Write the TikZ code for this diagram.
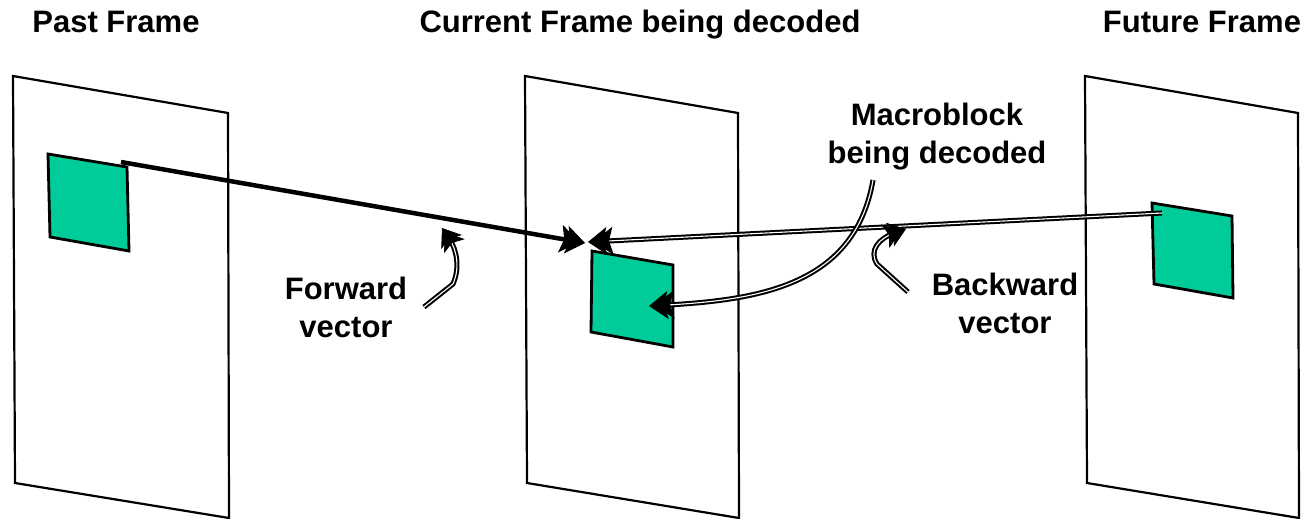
\documentclass[tikz,border=0pt]{standalone}
\usepackage{fontspec}
\setmainfont{Liberation Sans}
\usetikzlibrary{arrows.meta}
\definecolor{mbgreen}{RGB}{0,204,153}
\tikzset{
  frame/.style={draw=black, line width=2.2pt, fill=white, line join=miter},
  mblock/.style={draw=black, line width=2.8pt, fill=mbgreen, line join=miter},
  lbl/.style={font=\fontsize{31}{38}\selectfont\bfseries, align=center, inner sep=0pt},
  bighead/.style={arrows={-{Stealth[length=19pt,width=28pt,inset=4pt,line width=0.8pt,sep=-13pt]Stealth[length=19pt,width=28pt,inset=4pt,line width=0.8pt]}}},
  smallhead/.style={arrows={-{Stealth[length=17pt,width=25pt,inset=4pt,line width=0.8pt,sep=-12pt]Stealth[length=17pt,width=25pt,inset=4pt,line width=0.8pt]}}},
  mv/.style={line width=4.5pt, bighead},
  dbl/.style={double=white, double distance=1.1pt, line width=2pt},
}
\begin{document}
\begin{tikzpicture}[x=1pt,y=-1pt]
  \useasboundingbox (0,0) rectangle (1306,519);

  % titles
  \node[lbl, anchor=base] (pastttl) at (116,33) {Past Frame};
  \node[lbl, anchor=base] (curttl)  at (640,33) {Current Frame being decoded};
  \node[lbl, anchor=base] (futttl)  at (1202,33) {Future Frame};

  % the three frames
  \draw[frame] (13,76) -- (228,113) -- (229,518) -- (15,483) -- cycle;
  \draw[frame] (525,76) -- (738,113) -- (739,518) -- (527,483) -- cycle;
  \draw[frame] (1085,76) -- (1298,113) -- (1299,518) -- (1087,483) -- cycle;

  % macroblocks
  \draw[mblock] (48,154) -- (127,167) -- (129,251) -- (50,237) -- cycle;
  \draw[mblock] (592,251) -- (673,265) -- (673,347) -- (591,332) -- cycle;
  \draw[mblock] (1152,203) -- (1232,216) -- (1233,298) -- (1154,284) -- cycle;

  % labels (base anchor sits on the last line)
  \node[lbl, anchor=base] (mblbl)  at (937,163) {Macroblock\\being decoded};
  \node[lbl, anchor=base] (fwdlbl) at (346,337) {Forward\\vector};
  \node[lbl, anchor=base] (bwdlbl) at (1005,333) {Backward\\vector};

  % motion vectors
  \coordinate (fwdtail) at (121,162);
  \coordinate (fwdtip)  at (585,243);
  \coordinate (bwdtail) at (1162,213);
  \coordinate (bwdtip)  at (588,242);
  \draw[mv] (fwdtail) -- (fwdtip);
  \draw[dbl, bighead] (bwdtail) -- (bwdtip);

  % pointer to the macroblock being decoded
  \coordinate (mbfoot)  at (873,180);
  \coordinate (mbpoint) at (649,306);
  \draw[dbl, bighead] (mbfoot) .. controls (855,285) and (760,300) .. (mbpoint);

  % pointers from the vector labels
  \coordinate (fwdfoot) at (424,307);
  \coordinate (fwdhit)  at (442,228);
  \draw[dbl, smallhead] (fwdfoot) -- (453,284) .. controls (460,268) and (457,250) .. (fwdhit);
  \coordinate (bwdfoot) at (908,292);
  \coordinate (bwdhit)  at (906,229);
  \draw[dbl, smallhead] (bwdfoot) -- (877,264) .. controls (868,250) and (880,238) .. (bwdhit);
\end{tikzpicture}
\end{document}
